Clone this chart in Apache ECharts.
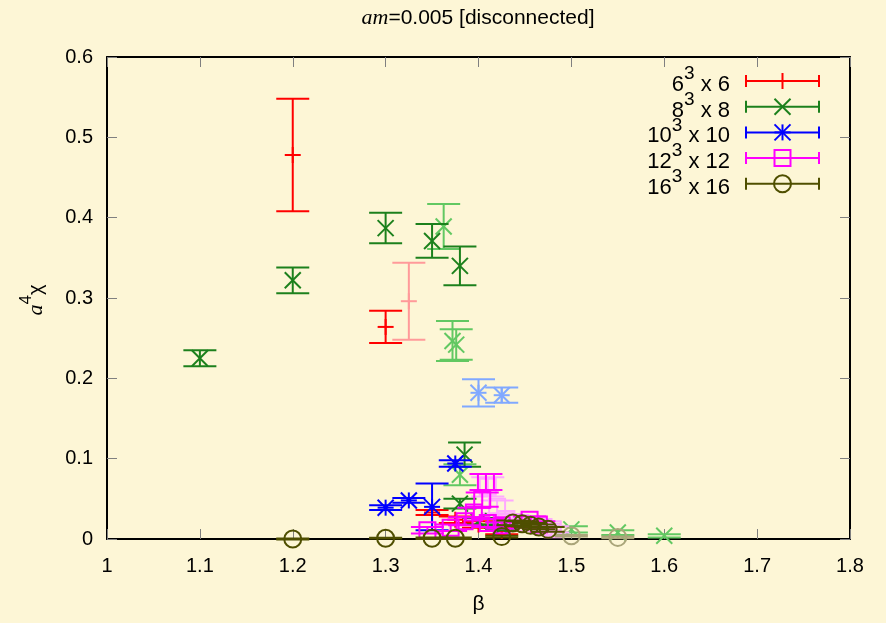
<!DOCTYPE html>
<html>
<head>
<meta charset="utf-8">
<script src="https://cdn.jsdelivr.net/npm/echarts@6/dist/echarts.min.js"></script>
<style>
  html, body { margin: 0; padding: 0; background: #fdf6d6; }
  #chart { width: 886px; height: 623px; }
</style>
</head>
<body>
<div id="chart"></div>
<script>
// Each point: [beta, a^4 chi, error]
const L6 = [
  [1.2, 0.478, 0.070], [1.3, 0.264, 0.020], [1.35, 0.033, 0.003],
  [1.375, 0.024, 0.004], [1.4, 0.018, 0.004], [1.425, 0.010, 0.004]
];
const L8 = [
  [1.1, 0.225, 0.010], [1.2, 0.322, 0.016], [1.3, 0.387, 0.019],
  [1.35, 0.371, 0.021], [1.38, 0.340, 0.024], [1.385, 0.105, 0.015],
  [1.38, 0.044, 0.006], [1.4, 0.022, 0.004], [1.425, 0.014, 0.003]
];
const L10 = [
  [1.3, 0.039, 0.003], [1.325, 0.048, 0.003], [1.35, 0.040, 0.029],
  [1.375, 0.094, 0.004]
];
const L12 = [
  [1.345, 0.011, 0.004], [1.37, 0.014, 0.004], [1.385, 0.022, 0.005],
  [1.395, 0.033, 0.006], [1.404, 0.049, 0.009], [1.408, 0.071, 0.010],
  [1.41, 0.020, 0.005], [1.425, 0.017, 0.004], [1.455, 0.024, 0.004],
  [1.465, 0.018, 0.004]
];
const L16 = [
  [1.2, 0.000, 0.0005], [1.3, 0.001, 0.0005], [1.35, 0.001, 0.001],
  [1.375, 0.001, 0.001], [1.425, 0.003, 0.001], [1.437, 0.020, 0.003],
  [1.447, 0.019, 0.003], [1.456, 0.017, 0.003], [1.465, 0.015, 0.003],
  [1.475, 0.012, 0.003]
];
// second data set, drawn in lighter shades
const L6b = [[1.325, 0.296, 0.048]];
const L8b = [
  [1.3625, 0.389, 0.028], [1.372, 0.2465, 0.025], [1.376, 0.242, 0.019],
  [1.38, 0.080, 0.013], [1.5, 0.012, 0.004], [1.55, 0.008, 0.003],
  [1.6, 0.004, 0.002]
];
const L10b = [[1.4, 0.182, 0.017], [1.425, 0.179, 0.0095]];
const L12b = [
  [1.41, 0.065, 0.012], [1.42, 0.040, 0.008], [1.43, 0.025, 0.006],
  [1.445, 0.020, 0.005], [1.47, 0.015, 0.004], [1.48, 0.012, 0.004]
];
const L16b = [[1.5, 0.004, 0.001], [1.55, 0.002, 0.001]];

const xTicks = { min: 1, max: 1.8, step: 0.1 };
const yTicks = { min: 0, max: 0.6, step: 0.1 };

const SANS = '"Liberation Sans", Arial, sans-serif';
const SERIF = '"Liberation Serif", "Times New Roman", serif';

const mainSets = [
  { base: '6',  data: L6,  color: '#ff0000', mark: 'plus' },
  { base: '8',  data: L8,  color: '#1c801c', mark: 'cross' },
  { base: '10', data: L10, color: '#0000ff', mark: 'star' },
  { base: '12', data: L12, color: '#ff00ff', mark: 'square' },
  { base: '16', data: L16, color: '#4f4f00', mark: 'circle' }
];
const lightSets = [
  { data: L6b,  color: '#ff9a9a', mark: 'plus' },
  { data: L8b,  color: '#62c862', mark: 'cross' },
  { data: L10b, color: '#80a8ff', mark: 'star' },
  { data: L12b, color: '#ffa8ff', mark: 'square' },
  { data: L16b, color: '#aaa57a', mark: 'circle' }
];

const HALF = 8;     // half size of point marks
const CAP = 16.5;   // half width of error-bar caps

function markShapes(kind, x, y, style) {
  const s = HALF;
  const line = (x1, y1, x2, y2) => ({ type: 'line', shape: { x1, y1, x2, y2 }, style });
  const plus = [line(x - s, y, x + s, y), line(x, y - s, x, y + s)];
  const cross = [line(x - s, y - s, x + s, y + s), line(x - s, y + s, x + s, y - s)];
  switch (kind) {
    case 'plus': return plus;
    case 'cross': return cross;
    case 'star': return plus.concat(cross);
    case 'square':
      return [{ type: 'rect', shape: { x: x - s, y: y - s, width: 2 * s, height: 2 * s }, style }];
    case 'circle':
      return [{ type: 'circle', shape: { cx: x, cy: y, r: s + 0.5 }, style }];
  }
  return [];
}

function errorBarRenderer(color, kind) {
  return function (params, api) {
    const b = api.value(0), v = api.value(1), e = api.value(2);
    const p = api.coord([b, v]);
    const top = api.coord([b, v + e]);
    const bot = api.coord([b, v - e]);
    const style = { stroke: color, lineWidth: 2, fill: 'none' };
    const children = [
      { type: 'line', shape: { x1: p[0], y1: top[1], x2: p[0], y2: bot[1] }, style },
      { type: 'line', shape: { x1: p[0] - CAP, y1: top[1], x2: p[0] + CAP, y2: top[1] }, style },
      { type: 'line', shape: { x1: p[0] - CAP, y1: bot[1], x2: p[0] + CAP, y2: bot[1] }, style }
    ].concat(markShapes(kind, p[0], p[1], style));
    return { type: 'group', children };
  };
}

const series = [];
lightSets.forEach((s) => {
  series.push({
    type: 'custom', data: s.data, clip: false,
    renderItem: errorBarRenderer(s.color, s.mark),
    encode: { x: 0, y: 1 }, silent: true
  });
});
mainSets.forEach((s) => {
  series.push({
    type: 'custom', name: s.base, data: s.data, clip: false,
    renderItem: errorBarRenderer(s.color, s.mark),
    encode: { x: 0, y: 1 }, silent: true
  });
});

// text pieces with raised exponents, laid out from measured widths
const measureCtx = document.createElement('canvas').getContext('2d');
function textWidth(str, font) { measureCtx.font = font; return measureCtx.measureText(str).width; }

// pieces: [{text, size, family, italic, raise}] -> text elements starting at local x=0, centred on y=0
function runElements(pieces) {
  const out = [];
  let x = 0;
  pieces.forEach((p) => {
    const font = (p.italic ? 'italic ' : '') + p.size + 'px ' + p.family;
    out.push({
      type: 'text', x: x, y: -(p.raise || 0),
      style: {
        text: p.text, fill: '#000', fontSize: p.size, fontFamily: p.family,
        fontStyle: p.italic ? 'italic' : 'normal', align: 'left', verticalAlign: 'middle'
      }
    });
    x += textWidth(p.text, font);
  });
  return { elements: out, width: x };
}

const graphics = [];

// key box in the upper right corner
mainSets.forEach((s, i) => {
  const y = 81 + i * 25.7;
  const style = { stroke: s.color, lineWidth: 2, fill: 'none' };
  const run = runElements([
    { text: s.base, size: 22, family: SANS, raise: -4 },
    { text: '3', size: 19, family: SANS, raise: 7 },
    { text: ' x ' + s.base, size: 22, family: SANS, raise: -4 }
  ]);
  graphics.push({ type: 'group', x: 730 - run.width, y: y, children: run.elements });
  const x1 = 746, x2 = 819, xc = (x1 + x2) / 2;
  graphics.push({ type: 'line', shape: { x1, y1: y, x2, y2: y }, style });
  graphics.push({ type: 'line', shape: { x1, y1: y - 6, x2: x1, y2: y + 6 }, style });
  graphics.push({ type: 'line', shape: { x1: x2, y1: y - 6, x2, y2: y + 6 }, style });
  markShapes(s.mark, xc, y, style).forEach((g) => graphics.push(g));
});

// title
const titleRun = runElements([
  { text: 'am', size: 22, family: SERIF, italic: true },
  { text: '=0.005 [disconnected]', size: 21, family: SANS }
]);
graphics.push({ type: 'group', x: 478 - titleRun.width / 2, y: 18, children: titleRun.elements });

// y-axis label, reading upwards
const yRun = runElements([
  { text: 'a', size: 22, family: SERIF, italic: true, raise: -3 },
  { text: '4', size: 17, family: SANS, raise: 7 },
  { text: 'χ', size: 20, family: SANS, raise: -3 }
]);
graphics.push({
  type: 'group', x: 33, y: 300 + yRun.width / 2, rotation: Math.PI / 2,
  children: yRun.elements
});

const tickStyle = { show: true, inside: true, length: 10, lineStyle: { color: '#808080', width: 1 } };
const frameLine = { show: true, onZero: false, lineStyle: { color: '#000', width: 2 } };

function axisFmt(v) { return String(Math.round(v * 10) / 10); }

const option = {
  backgroundColor: '#fdf6d6',
  animation: false,
  grid: { left: 107, right: 36, top: 57, bottom: 84, containLabel: false },
  xAxis: [
    {
      type: 'value', position: 'bottom', min: xTicks.min, max: xTicks.max, interval: xTicks.step,
      axisLine: frameLine, axisTick: tickStyle, splitLine: { show: false },
      axisLabel: { color: '#000', fontSize: 20, fontFamily: SANS, margin: 17, formatter: axisFmt },
      name: 'β', nameLocation: 'middle', nameGap: 55,
      nameTextStyle: { color: '#000', fontSize: 21, fontFamily: SANS }
    },
    {
      type: 'value', position: 'top', min: xTicks.min, max: xTicks.max, interval: xTicks.step,
      axisLine: frameLine, axisTick: tickStyle, splitLine: { show: false }, axisLabel: { show: false }
    }
  ],
  yAxis: [
    {
      type: 'value', position: 'left', min: yTicks.min, max: yTicks.max, interval: yTicks.step,
      axisLine: frameLine, axisTick: tickStyle, splitLine: { show: false },
      axisLabel: { color: '#000', fontSize: 20, fontFamily: SANS, margin: 14, formatter: axisFmt }
    },
    {
      type: 'value', position: 'right', min: yTicks.min, max: yTicks.max, interval: yTicks.step,
      axisLine: frameLine, axisTick: tickStyle, splitLine: { show: false }, axisLabel: { show: false }
    }
  ],
  graphic: graphics,
  series: series
};

const chart = echarts.init(document.getElementById('chart'), null, { renderer: 'canvas' });
chart.setOption(option);
</script>
</body>
</html>
